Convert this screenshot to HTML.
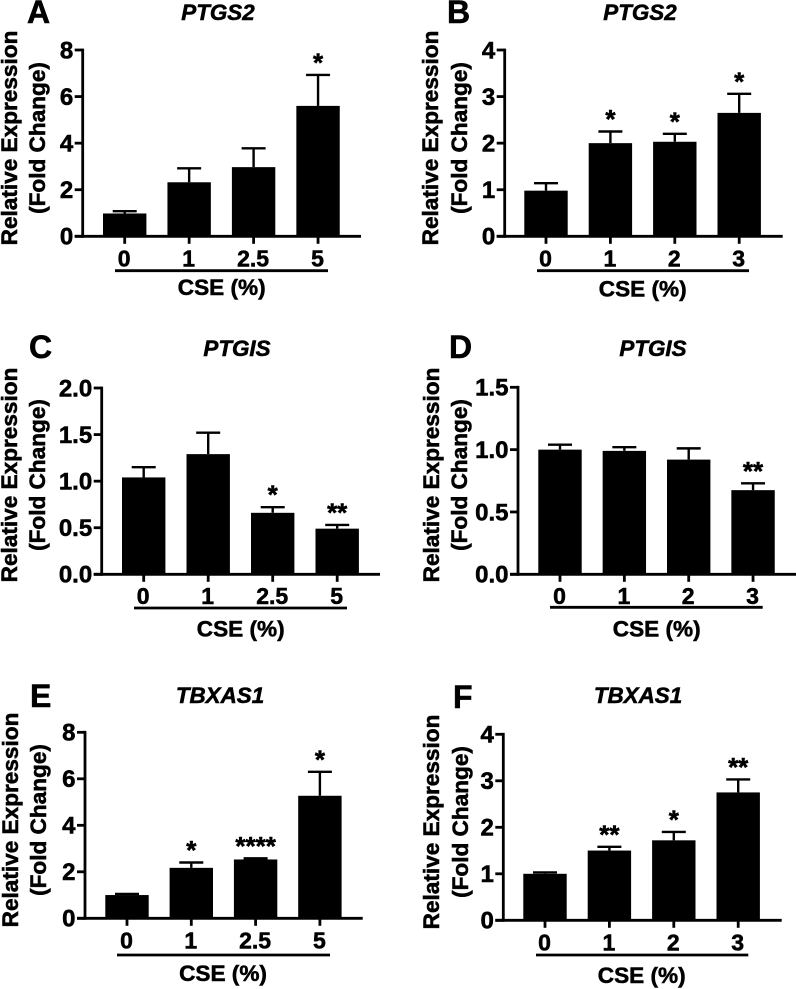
<!DOCTYPE html>
<html lang="en">
<head>
<meta charset="utf-8">
<title>Relative expression of PTGS2, PTGIS and TBXAS1 by CSE concentration</title>
<style>
html,body{margin:0;padding:0;background:#fff;}
body{width:796px;height:989px;overflow:hidden;}
svg{display:block;filter:blur(0.35px);}
text{font-family:"Liberation Sans",Arial,sans-serif;font-weight:bold;fill:#000;stroke:#000;stroke-width:0.55px;}
</style>
</head>
<body>
<svg id="figure" xmlns="http://www.w3.org/2000/svg" width="796" height="989" viewBox="0 0 796 989"></svg>
<script>
const categoriesA = ['0', '1', '2.5', '5'];
const meansA = [0.98, 2.32, 2.97, 5.6];
const errorTopsA = [1.08, 2.92, 3.78, 6.93];
const significanceA = ['', '', '', '*'];
const tickLabelsA = ['0', '2', '4', '6', '8'];

const categoriesB = ['0', '1', '2', '3'];
const meansB = [0.98, 2.0, 2.03, 2.65];
const errorTopsB = [1.14, 2.25, 2.2, 3.06];
const significanceB = ['', '*', '*', '*'];
const tickLabelsB = ['0', '1', '2', '3', '4'];

const categoriesC = ['0', '1', '2.5', '5'];
const meansC = [1.04, 1.29, 0.66, 0.49];
const errorTopsC = [1.15, 1.52, 0.72, 0.53];
const significanceC = ['', '', '*', '**'];
const tickLabelsC = ['0.0', '0.5', '1.0', '1.5', '2.0'];

const categoriesD = ['0', '1', '2', '3'];
const meansD = [1.0, 0.99, 0.92, 0.675];
const errorTopsD = [1.04, 1.02, 1.01, 0.73];
const significanceD = ['', '', '', '**'];
const tickLabelsD = ['0.0', '0.5', '1.0', '1.5'];

const categoriesE = ['0', '1', '2.5', '5'];
const meansE = [1.0, 2.17, 2.53, 5.27];
const errorTopsE = [1.05, 2.4, 2.58, 6.3];
const significanceE = ['', '*', '****', '*'];
const tickLabelsE = ['0', '2', '4', '6', '8'];

const categoriesF = ['0', '1', '2', '3'];
const meansF = [1.0, 1.5, 1.72, 2.75];
const errorTopsF = [1.03, 1.58, 1.9, 3.03];
const significanceF = ['', '**', '*', '**'];
const tickLabelsF = ['0', '1', '2', '3', '4'];

const panels = [
  {id:'a',letter:'A',title:'PTGS2',cats:categoriesA,means:meansA,tops:errorTopsA,sig:significanceA,ticks:tickLabelsA,
   x0:82.7,yT:50,yB:236.3,first:124.7,step:64.45,end:361,tickBase:266.7,ulY:270.7,ulL:115,ulR:328,cseX:221.7,cseY:295,titleX:218,titleY:20,letX:27,letY:23,yt1:17,yt2:45,ytC:138},
  {id:'b',letter:'B',title:'PTGS2',cats:categoriesB,means:meansB,tops:errorTopsB,sig:significanceB,ticks:tickLabelsB,
   x0:504.7,yT:50,yB:236.3,first:546,step:64.4,end:782.7,tickBase:266.7,ulY:270.7,ulL:537,ulR:749,cseX:642.7,cseY:296.7,titleX:640,titleY:20,letX:447,letY:23,yt1:438,yt2:467,ytC:138},
  {id:'c',letter:'C',title:'PTGIS',cats:categoriesC,means:meansC,tops:errorTopsC,sig:significanceC,ticks:tickLabelsC,
   x0:101.7,yT:388,yB:574.3,first:143.7,step:64.5,end:380,tickBase:604,ulY:608,ulL:134,ulR:347,cseX:240.7,cseY:636.7,titleX:237,titleY:356,letX:29,letY:358,yt1:17,yt2:45,ytC:475},
  {id:'d',letter:'D',title:'PTGIS',cats:categoriesD,means:meansD,tops:errorTopsD,sig:significanceD,ticks:tickLabelsD,
   x0:518,yT:387.3,yB:574.3,first:560,step:64.35,end:796,tickBase:604,ulY:607.3,ulL:550,ulR:762.7,cseX:656.7,cseY:636.7,titleX:653,titleY:356,letX:449,letY:358,yt1:439,yt2:467,ytC:475},
  {id:'e',letter:'E',title:'TBXAS1',cats:categoriesE,means:meansE,tops:errorTopsE,sig:significanceE,ticks:tickLabelsE,
   x0:85,yT:732.3,yB:918.3,first:127,step:64.3,end:362.7,tickBase:948.3,ulY:955,ulL:117,ulR:330,cseX:223,cseY:981,titleX:220,titleY:703,letX:30,letY:707,yt1:18,yt2:46,ytC:820},
  {id:'f',letter:'F',title:'TBXAS1',cats:categoriesF,means:meansF,tops:errorTopsF,sig:significanceF,ticks:tickLabelsF,
   x0:503.3,yT:734.3,yB:920.3,first:545,step:64.4,end:781.7,tickBase:950.7,ulY:955,ulL:536,ulR:748.3,cseX:641.7,cseY:983,titleX:638,titleY:703,letX:453,letY:708,yt1:439,yt2:468,ytC:822}
];

const svg = document.getElementById('figure');
const NS = 'http://www.w3.org/2000/svg';

function make(parent, tag, props, content) {
  const node = document.createElementNS(NS, tag);
  for (const key in props) node.setAttribute(key, props[key]);
  if (content !== undefined) node.textContent = content;
  parent.appendChild(node);
  return node;
}

panels.forEach(function (p) {
  const maxVal = parseFloat(p.ticks[p.ticks.length - 1]);
  const yScale = function (v) { return p.yB - (v / maxVal) * (p.yB - p.yT); };
  const xScale = function (i) { return p.first + i * p.step; };

  const group = make(svg, 'g', {});
  
  

  const letter = make(group, 'text', {x: p.letX, y: p.letY, 'font-size': 32}, p.letter);
  
  

  const title = make(group, 'text', {x: p.titleX, y: p.titleY, 'font-size': 22.4, 'font-style': 'italic', 'text-anchor': 'middle'}, p.title);
  
  

  const yTitle1 = make(group, 'text', {x: 0, y: 0, 'font-size': 22.6, 'text-anchor': 'middle', transform: 'translate(' + p.yt1 + ',' + p.ytC + ') rotate(-90)'}, 'Relative Expression');
  
  

  const yTitle2 = make(group, 'text', {x: 0, y: 0, 'font-size': 22.6, 'text-anchor': 'middle', transform: 'translate(' + p.yt2 + ',' + p.ytC + ') rotate(-90)'}, '(Fold Change)');
  
  

  p.cats.forEach(function (cat, i) {
    const cx = xScale(i);
    const yTop = yScale(p.tops[i]);
    const yMean = yScale(p.means[i]);

    const stem = make(group, 'line', {x1: cx, x2: cx, y1: yTop, y2: yMean, stroke: '#000', 'stroke-width': 2.4});
    
    

    const cap = make(group, 'line', {x1: cx - 12, x2: cx + 12, y1: yTop, y2: yTop, stroke: '#000', 'stroke-width': 2.4});
    
    

    const bar = make(group, 'rect', {x: cx - 21.7, y: yMean, width: 43.4, height: p.yB - yMean, fill: '#000'});
    
    

    const tick = make(group, 'line', {x1: cx, x2: cx, y1: p.yB, y2: p.yB + 7.5, stroke: '#000', 'stroke-width': 2.8});
    
    

    const catLabel = make(group, 'text', {x: cx - 0.5, y: p.tickBase, 'font-size': 23, 'text-anchor': 'middle'}, cat);
    
    

    if (p.sig[i]) {
      const star = make(group, 'text', {x: cx, y: yTop - 3.5, 'font-size': 26, 'text-anchor': 'middle'}, p.sig[i]);
      
      
    }
  });

  const yAxis = make(group, 'line', {x1: p.x0, x2: p.x0, y1: p.yT - 1.4, y2: p.yB + 1.4, stroke: '#000', 'stroke-width': 2.8});
  
  

  const xAxis = make(group, 'line', {x1: p.x0 - 8, x2: p.end, y1: p.yB, y2: p.yB, stroke: '#000', 'stroke-width': 2.8});
  
  

  p.ticks.forEach(function (label) {
    const y = yScale(parseFloat(label));

    const tick = make(group, 'line', {x1: p.x0 - 8, x2: p.x0, y1: y, y2: y, stroke: '#000', 'stroke-width': 2.8});
    
    

    const tickLabel = make(group, 'text', {x: p.x0 - 9.5, y: y + 8.4, 'font-size': 24, 'text-anchor': 'end'}, label);
    
    
  });

  const underline = make(group, 'line', {x1: p.ulL, x2: p.ulR, y1: p.ulY, y2: p.ulY, stroke: '#000', 'stroke-width': 2.8});
  
  

  const cse = make(group, 'text', {x: p.cseX, y: p.cseY, 'font-size': 22.6, 'text-anchor': 'middle'}, 'CSE (%)');
  
  
});
</script>
</body>
</html>
